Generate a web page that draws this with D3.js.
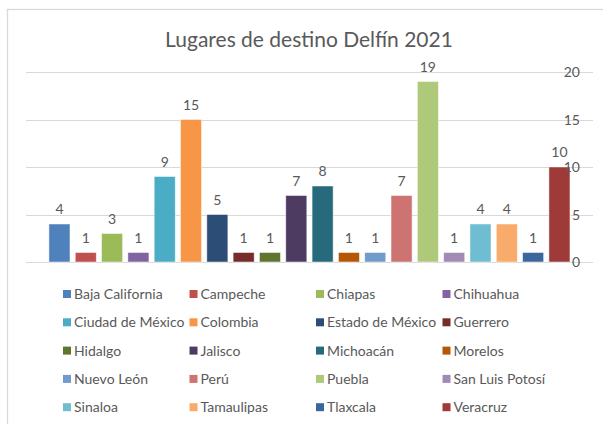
<!DOCTYPE html>
<html>
<head>
<meta charset="utf-8">
<script src="https://cdn.jsdelivr.net/npm/d3@7/dist/d3.min.js"></script>
<style>
  body { margin: 0; background: #fff; }
  text { font-family: Lato, "Open Sans", sans-serif; fill: #595959; }
</style>
</head>
<body>
<svg id="chart" width="603" height="424"></svg>
<script>
// data
const categories = ['Baja California', 'Campeche', 'Chiapas', 'Chihuahua',
  'Ciudad de México', 'Colombia', 'Estado de México', 'Guerrero',
  'Hidalgo', 'Jalisco', 'Michoacán', 'Morelos',
  'Nuevo León', 'Perú', 'Puebla', 'San Luis Potosí',
  'Sinaloa', 'Tamaulipas', 'Tlaxcala', 'Veracruz'];
const values = [4, 1, 3, 1, 9, 15, 5, 1, 1, 7, 8, 1, 1, 7, 19, 1, 4, 4, 1, 10];
const colors = ['#4f81bd', '#c0504d', '#9bbb59', '#8064a2',
  '#4bacc6', '#f79646', '#2c4d75', '#772c2a',
  '#5f7530', '#4d3b62', '#276a7c', '#b65708',
  '#729aca', '#cd7371', '#afc97a', '#a08bb5',
  '#6fbdd1', '#f9ab6b', '#3a679c', '#9e3b38'];
const yTicks = [0, 5, 10, 15, 20];
const title = 'Lugares de destino Delfín 2021';

const svg = d3.select('#chart');

// chart frame (runs off the right and bottom of the picture)
svg.append('rect')
  .attr('x', 7.5).attr('y', 9.5)
  .attr('width', 700).attr('height', 500)
  .attr('fill', 'none')
  .attr('stroke', '#d9d9d9')
  .attr('stroke-width', 1.3);

svg.append('text')
  .attr('x', 309).attr('y', 47)
  .attr('text-anchor', 'middle')
  .style('font-size', '21px')
  .text(title);

const x = d3.scaleBand()
  .domain(categories)
  .range([46.3, 572.6])
  .paddingInner(0.2)
  .paddingOuter(0.1);

const y = d3.scaleLinear()
  .domain([0, 20])
  .range([262, 72]);

// gridlines
svg.append('g')
  .selectAll('line')
  .data(yTicks)
  .enter()
  .append('line')
  .attr('x1', 26).attr('x2', 593)
  .attr('y1', d => Math.round(y(d)) + 0.5)
  .attr('y2', d => Math.round(y(d)) + 0.5)
  .attr('stroke', '#d9d9d9')
  .attr('stroke-width', 1);

// bars
svg.append('g')
  .selectAll('rect')
  .data(values)
  .enter()
  .append('rect')
  .attr('x', (d, i) => x(categories[i]))
  .attr('y', d => y(d))
  .attr('width', x.bandwidth())
  .attr('height', d => y(0) - y(d))
  .attr('fill', (d, i) => colors[i])
  .attr('stroke', '#ffffff')
  .attr('stroke-opacity', 0.6)
  .attr('stroke-width', 0.8);

// data labels
svg.append('g')
  .selectAll('text')
  .data(values)
  .enter()
  .append('text')
  .attr('x', (d, i) => x(categories[i]) + x.bandwidth() / 2)
  .attr('y', d => y(d) - 10)
  .attr('text-anchor', 'middle')
  .style('font-size', '14px')
  .text(d => d);

// y axis labels on the right, drawn over the gridlines
svg.append('g')
  .selectAll('text')
  .data(yTicks)
  .enter()
  .append('text')
  .attr('x', 580)
  .attr('y', d => y(d) + 5)
  .attr('text-anchor', 'end')
  .style('font-size', '14px')
  .text(d => d);

// legend, 4 columns
const legend = svg.append('g')
  .selectAll('g')
  .data(categories)
  .enter()
  .append('g')
  .attr('transform', (d, i) => `translate(${63 + (i % 4) * 126.5}, ${294 + Math.floor(i / 4) * 28.3})`);

legend.append('rect')
  .attr('x', 0).attr('y', -4)
  .attr('width', 8).attr('height', 8)
  .attr('fill', (d, i) => colors[i]);

legend.append('text')
  .attr('x', 11).attr('y', 5)
  .style('font-size', '14px')
  .text(d => d);
</script>
</body>
</html>
